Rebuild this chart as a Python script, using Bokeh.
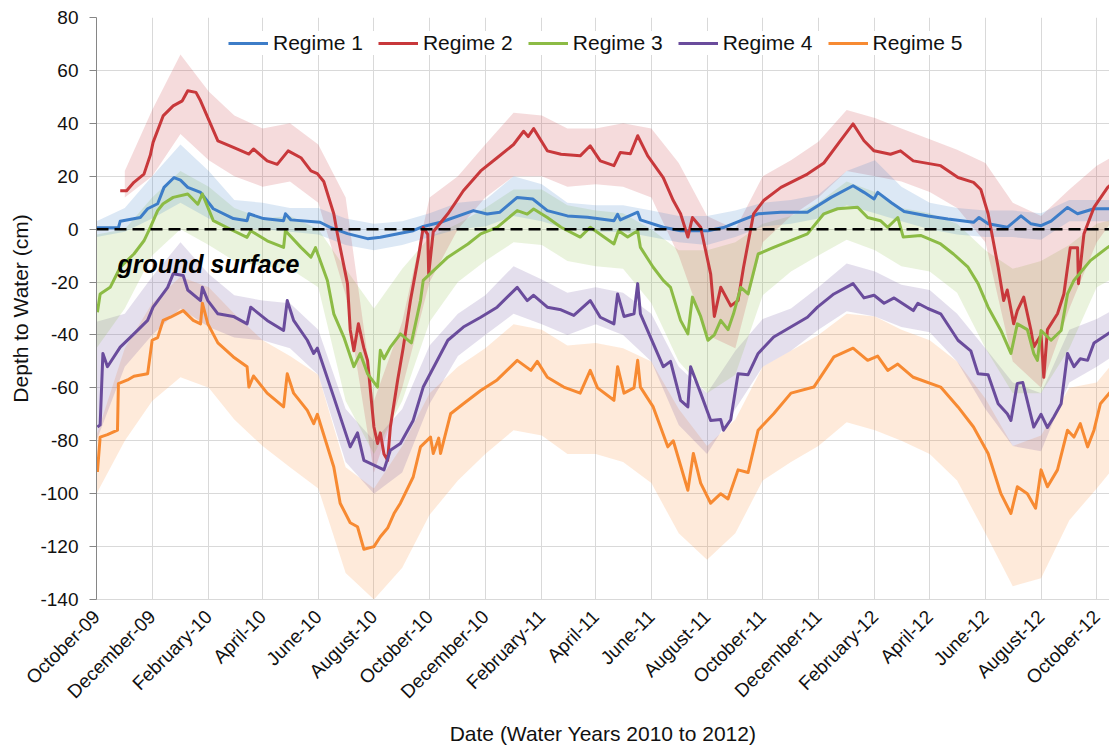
import numpy as np
import pandas as pd
from bokeh.plotting import figure
from bokeh.models import Range1d, FixedTicker, Span, Legend, LegendItem, Label
from bokeh.embed import file_html
from bokeh.resources import INLINE

# ---------------- data (days since 2009-10-01, depth in cm) ----------------
start = pd.Timestamp("2009-10-01")

tick_labels = ["October-09", "December-09", "February-10", "April-10", "June-10",
               "August-10", "October-10", "December-10", "February-11", "April-11",
               "June-11", "August-11", "October-11", "December-11", "February-12",
               "April-12", "June-12", "August-12", "October-12"]

y_ticks = [-140, -120, -100, -80, -60, -40, -20, 0, 20, 40, 60, 80]
y_tick_labels = ["-140", "-120", "-100", "-80", "-60", "-40", "-20", "0", "20", "40", "60", "80"]

series_names = ["Regime 1", "Regime 2", "Regime 3", "Regime 4", "Regime 5"]

r1_day = [0, 24, 26, 48, 56, 67, 74, 85, 92, 100, 114, 128, 150, 165, 167, 183, 205, 207, 213, 245,
          256, 275, 297, 311, 347, 358, 377, 413, 428, 442, 461, 478, 494, 516, 538, 567, 571, 574, 593, 596,
          621, 640, 670, 687, 706, 725, 750, 779, 805, 829, 841, 852, 856, 871, 885, 911, 933, 961, 967, 977,
          998, 1013, 1024, 1035, 1046, 1064, 1075, 1093, 1119, 1128]
r1_val = [0.5, 0.5, 3, 4.4, 7.7, 9.6, 15.8, 19.5, 18.5, 15.8, 13.9, 7.7, 4, 3.2, 5.8, 4, 3.2, 5.8, 3.5, 2.6,
          0.7, -1.7, -3.6, -3.1, -0.6, 1, 2.6, 7, 5.7, 6.4, 12, 11.4, 7, 5, 4.5, 3.2, 5.6, 3.5, 6.4, 3.5,
          0.7, -0.6, -0.6, 0.6, 3.2, 5.8, 6.4, 6.4, 12, 16.4, 13.9, 11.4, 13.9, 10, 6.7, 5, 3.8, 2.6, 4.4, 2,
          0.7, 5, 2, 1.3, 3, 8.2, 5.8, 7.7, 7.7, 7.7]

r2_day = [26, 33, 41, 52, 59, 62, 73, 84, 94, 100, 109, 114, 133, 150, 167, 172, 187, 198, 210, 224,
          235, 242, 249, 260, 264, 275, 278, 282, 287, 293, 297, 304, 308, 311, 315, 319, 322, 330, 336, 344,
          353, 358, 363, 364, 369, 385, 402, 421, 439, 457, 468, 473, 479, 494, 509, 530, 541, 552, 567, 574,
          585, 593, 604, 621, 632, 640, 648, 653, 662, 673, 677, 684, 695, 703, 709, 720, 731, 750, 779, 797,
          815, 829, 841, 852, 870, 881, 895, 925, 944, 961, 969, 977, 988, 994, 998, 1005, 1009, 1016, 1024, 1027,
          1035, 1038, 1042, 1053, 1060, 1067, 1075, 1076, 1082, 1093, 1108, 1119, 1128]
r2_val = [14.5, 14.5, 17.7, 20.8, 28, 32.8, 42.8, 46.6, 48.5, 52.3, 51.7, 48.5, 33.4, 30.9, 28.4, 30.3, 25.8, 24.5, 29.6, 27,
          22, 21, 18, 5.8, -1.8, -20.6, -38, -46, -35.8, -45, -49.6, -74.8, -81, -77, -85, -87.4, -74.8, -57, -45, -27,
          -10, 0.6, -2, -17, -1, 5.8, 14.5, 22, 27, 32, 37, 35, 38, 29.6, 28.3, 27.7, 31.5, 25.8, 24, 29,
          28.5, 35.3, 27.7, 19.5, 10.8, 5.8, -3, 4.4, 0.7, -17, -33, -22, -29, -27, -14.4, 5.8, 10.8, 15.8, 20.8, 25,
          33.4, 39.8, 33.4, 29.6, 28.3, 29.6, 25.8, 24, 19.5, 17.7, 15, 5.8, -14.4, -27, -23, -35.8, -30.8, -25.7, -38.3, -44.5,
          -40, -56, -38, -32, -24.5, -7, -7, -20.6, -1.8, 8.2, 15.8, 19, 21]

r3_day = [1, 4, 15, 26, 41, 52, 59, 67, 73, 84, 100, 111, 116, 128, 150, 165, 169, 187, 205, 207,
          224, 235, 240, 253, 260, 271, 282, 289, 297, 308, 311, 315, 322, 333, 345, 355, 358, 385, 407, 421,
          439, 461, 472, 479, 494, 509, 530, 541, 567, 572, 582, 593, 596, 610, 621, 629, 640, 648, 653, 662,
          670, 677, 684, 692, 698, 706, 714, 725, 742, 779, 797, 812, 834, 845, 859, 867, 878, 884, 903, 925,
          939, 955, 966, 977, 991, 1002, 1009, 1020, 1027, 1031, 1035, 1046, 1057, 1064, 1071, 1089, 1108, 1119, 1128]
r3_val = [-31.4, -24.5, -22, -14.4, -9.4, -4.4, 0.7, 7, 9.6, 12, 13.3, 9.4, 13.3, 3.2, -0.6, -3.1, -0.6, -4.4, -6.9, -0.6,
          -6.9, -10.6, -7, -19.4, -32, -40.8, -52, -47, -54.7, -59.7, -45.8, -49, -44.6, -39.6, -43, -27, -19.4, -10.6, -5.6, -1.8,
          0.7, 7, 5.7, 7.6, 4.4, 0.7, -3, 0.7, -5.6, -0.6, -3, -0.6, -6.9, -14.4, -19.4, -22, -34.5, -39.6, -25.7, -33,
          -42, -40, -34.5, -38, -32, -22, -24.5, -9.4, -6.9, -1.8, 5.8, 7.7, 8.3, 4.4, 3.2, 0.7, 4.4, -3, -2.4, -5.6,
          -9.4, -14.4, -20.6, -29.5, -38.3, -47, -35.8, -38, -47, -49.6, -38.3, -42, -38.3, -24.5, -19.4, -11.9, -6.9, -4.4, -3]

r4_day = [1, 4, 7, 12, 26, 41, 56, 62, 78, 84, 95, 100, 114, 116, 122, 133, 150, 165, 169, 187,
          205, 209, 216, 231, 238, 242, 260, 278, 286, 293, 315, 322, 333, 347, 358, 385, 402, 421, 439, 461,
          472, 479, 494, 509, 523, 541, 552, 567, 571, 578, 589, 593, 596, 607, 621, 629, 640, 648, 651, 662,
          673, 684, 687, 695, 703, 714, 725, 742, 779, 790, 808, 829, 841, 852, 863, 874, 895, 900, 911, 925,
          944, 958, 966, 977, 988, 998, 1002, 1009, 1015, 1027, 1035, 1042, 1049, 1057, 1064, 1071, 1078, 1086, 1093, 1108,
          1119, 1128]
r4_val = [-74.8, -74, -47, -52, -44.6, -39.6, -34.5, -29.5, -22, -16.9, -17.5, -23, -27, -22, -27, -32, -33, -35.8, -29.5, -34.5,
          -38.3, -27, -34.5, -42, -47, -45, -63.5, -82.3, -77, -87.4, -91, -83.6, -81, -72.3, -59.7, -42, -37, -33.3, -29.5, -22,
          -27, -25, -29.5, -30.5, -32.6, -27, -33.3, -35.8, -24.5, -33, -32, -20.6, -32, -40.8, -52, -50, -64.7, -67.2, -52, -62,
          -72.3, -72, -76, -72, -54.7, -55, -47, -40.8, -33.3, -29.5, -24.5, -20.6, -26, -25, -28, -26, -30.8, -28, -30, -32,
          -42, -46, -54.7, -55, -66, -69.8, -72.3, -58.3, -58, -74.8, -70, -75, -71, -66, -47, -52, -49, -49.6, -43, -39.6,
          -37, -36]

r5_day = [1, 4, 12, 23, 24, 34, 41, 56, 61, 67, 73, 81, 95, 106, 114, 116, 122, 133, 150, 165,
          167, 172, 187, 205, 209, 216, 231, 238, 242, 260, 267, 278, 286, 293, 304, 311, 319, 326, 333, 347,
          355, 366, 369, 375, 377, 388, 402, 421, 439, 461, 476, 483, 494, 512, 530, 541, 549, 567, 571, 578,
          589, 593, 596, 610, 626, 632, 648, 654, 662, 673, 684, 692, 703, 714, 725, 742, 761, 786, 808, 829,
          845, 856, 867, 878, 895, 925, 944, 961, 977, 991, 1002, 1009, 1020, 1029, 1035, 1042, 1053, 1064, 1071, 1078,
          1086, 1093, 1100, 1119, 1128]
r5_val = [-91.8, -78.6, -77.7, -76, -58.4, -57, -55.6, -54.7, -42, -41, -34.5, -33.3, -30.8, -34.5, -35.8, -28, -35.8, -43, -48.3, -52,
          -59.7, -55.5, -62, -67.2, -54.7, -62, -68.5, -73.5, -70, -89.9, -103.6, -111, -112.5, -121, -120, -116.3, -113, -107.5, -103.6, -93.7,
          -82.3, -78.6, -84.8, -79, -84.8, -69.8, -66, -61, -57, -49.6, -53.4, -50, -56, -59.7, -62, -53.4, -60, -64.7, -52, -62,
          -60, -49.6, -59.7, -67.2, -82.3, -80, -98.7, -84.8, -96, -103.6, -100, -102, -91, -92, -76, -69.8, -62, -59.7, -48.3, -45,
          -49.6, -48, -53.4, -51, -56, -59.7, -67.2, -74.8, -84.8, -100, -107.5, -97.4, -100, -105.5, -91, -97.4, -91, -76, -78.6, -73.5,
          -82.3, -76, -66, -58.3, -57]

# variability bands, sampled at each month start (Oct-09 ... Nov-12)
r1_hi = [3, 8, 20, 32, 22, 11, 10, 8, 8, 4, 2, 3, 6, 10, 11, 20, 17, 10, 9, 9,
         7, 5, 5, 7, 10, 11, 13, 22, 26, 16, 10, 8, 7, 7, 6, 11, 11, 11]
r1_lo = [-3, -1, 4, 10, 4, 0, 0, -1, -2, -6, -8, -6, -3, 0, 1, 5, 3, 0, -1, -1,
         -3, -5, -6, -3, 1, 2, 4, 9, 6, 3, 0, -2, -3, -3, -4, 3, 3, 3]
# Regime 2 band starts at Nov-09
r2_hi = [22, 45, 66, 52, 43, 38, 40, 32, 12, -65, -35, 12, 20, 32, 44, 43, 38, 38, 40, 38,
         25, 5, 0, 20, 26, 33, 45, 42, 38, 34, 30, 25, 10, 5, 15, 24, 30]
r2_lo = [12, 20, 36, 26, 20, 16, 18, 10, -25, -92, -60, -20, 0, 12, 20, 20, 16, 17, 16, 12,
         -10, -40, -45, -5, 5, 12, 22, 20, 18, 14, 8, -5, -50, -60, -30, -5, 10]
r3_hi = [-2, 0, 12, 22, 16, 8, 4, 5, 0, -15, -30, -15, -3, 2, 8, 15, 15, 9, 7, 6,
         0, -8, -8, -5, 2, 5, 10, 18, 14, 8, 6, 2, -8, -15, -12, -6, 2, 5]
r3_lo = [-45, -30, -10, 0, -6, -12, -14, -15, -22, -65, -85, -65, -35, -20, -12, -5, -6, -12, -14, -15,
         -28, -50, -62, -55, -25, -16, -10, -4, -8, -14, -16, -24, -45, -62, -62, -45, -22, -16]
r4_hi = [-35, -32, -18, -5, -17, -25, -27, -28, -38, -68, -80, -68, -44, -32, -25, -14, -19, -24, -22, -24,
         -32, -52, -62, -46, -34, -30, -22, -13, -16, -21, -23, -32, -45, -58, -62, -38, -34, -28]
r4_lo = [-80, -52, -40, -30, -37, -41, -42, -45, -55, -88, -100, -92, -66, -48, -40, -32, -36, -40, -36, -40,
         -50, -74, -85, -68, -52, -46, -38, -31, -33, -37, -39, -50, -68, -82, -84, -58, -52, -45]
r5_hi = [-78, -45, -28, -18, -22, -32, -42, -48, -55, -90, -98, -82, -62, -52, -45, -36, -38, -44, -43, -45,
         -50, -68, -82, -72, -52, -46, -40, -32, -33, -38, -42, -50, -64, -82, -78, -60, -58, -45]
r5_lo = [-100, -80, -65, -56, -60, -72, -82, -90, -98, -130, -140, -128, -108, -95, -85, -76, -78, -85, -85, -88,
         -96, -115, -125, -115, -95, -88, -82, -73, -76, -80, -85, -95, -115, -135, -132, -110, -98, -85]

colors = ["#3D7DC8", "#C8383B", "#8CBB45", "#6A4C9C", "#F78A32"]

# ---------------- derived positions ----------------
months = pd.date_range("2009-10-01", "2012-11-01", freq="MS")
band_day = [int(d) for d in (months - start).days]
tick_days = band_day[0:37:2]

FONT = "Liberation Sans"

p = figure(width=1109, height=747, output_backend="svg", toolbar_location=None,
           x_range=Range1d(0, 1110), y_range=Range1d(-140, 80),
           min_border_left=96, min_border_right=0, min_border_top=17, min_border_bottom=147)
p.outline_line_color = None
p.background_fill_color = "white"

bands = [(band_day, r1_lo, r1_hi), (band_day[1:], r2_lo, r2_hi), (band_day, r3_lo, r3_hi),
         (band_day, r4_lo, r4_hi), (band_day, r5_lo, r5_hi)]
for (bd, lo, hi), c in reversed(list(zip(bands, colors))):
    p.varea(x=bd, y1=lo, y2=hi, fill_color=c, fill_alpha=0.18)

lines = [(r1_day, r1_val), (r2_day, r2_val), (r3_day, r3_val), (r4_day, r4_val), (r5_day, r5_val)]
renderers = []
for (d, v), c in zip(lines, colors):
    renderers.append(p.line(x=d, y=v, line_color=c, line_width=3, line_join="round"))

p.add_layout(Span(location=0, dimension="width", line_color="black",
                  line_width=2.5, line_dash="12 6"))

p.add_layout(Label(x=23, y=-13, text="ground surface", text_font=FONT,
                   text_font_style="bold italic", text_font_size="25px",
                   text_color="black", text_baseline="alphabetic"))

# axes
p.xaxis.ticker = FixedTicker(ticks=tick_days)
p.xaxis.major_label_overrides = {d: lab for d, lab in zip(tick_days, tick_labels)}
p.xaxis.major_label_orientation = np.pi / 4
p.xaxis.major_label_text_font = FONT
p.xaxis.major_label_text_font_size = "19px"
p.xaxis.major_label_text_color = "#111111"
p.xaxis.major_label_standoff = 8
p.xaxis.major_tick_line_color = None
p.xaxis.minor_tick_line_color = None
p.xaxis.axis_line_color = "#d9d9d9"
p.xaxis.axis_label = "Date (Water Years 2010 to 2012)"
p.xaxis.axis_label_text_font = FONT
p.xaxis.axis_label_text_font_style = "normal"
p.xaxis.axis_label_text_font_size = "21px"
p.xaxis.axis_label_text_color = "#111111"
p.xaxis.axis_label_standoff = 9

p.yaxis.ticker = FixedTicker(ticks=y_ticks)
p.yaxis.major_label_overrides = {t: s for t, s in zip(y_ticks, y_tick_labels)}
p.yaxis.major_label_text_font = FONT
p.yaxis.major_label_text_font_size = "19px"
p.yaxis.major_label_text_color = "#111111"
p.yaxis.major_tick_out = 7
p.yaxis.major_tick_in = 0
p.yaxis.major_tick_line_color = "#868686"
p.yaxis.minor_tick_line_color = None
p.yaxis.axis_line_color = "#868686"
p.yaxis.major_label_standoff = 11
p.yaxis.axis_label = "Depth to Water (cm)"
p.yaxis.axis_label_text_font = FONT
p.yaxis.axis_label_text_font_style = "normal"
p.yaxis.axis_label_text_font_size = "21px"
p.yaxis.axis_label_text_color = "#111111"
p.yaxis.axis_label_standoff = 5

p.xgrid.grid_line_color = "#d9d9d9"
p.ygrid.grid_line_color = "#d9d9d9"

legend = Legend(items=[LegendItem(label=n, renderers=[r]) for n, r in zip(series_names, renderers)],
                location=(132, 544), orientation="horizontal")
legend.label_text_font = FONT
legend.label_text_font_size = "21px"
legend.label_text_color = "#111111"
legend.glyph_width = 40
legend.glyph_height = 20
legend.label_standoff = 5
legend.spacing = 15
legend.padding = 15
legend.margin = 0
legend.border_line_color = None
legend.background_fill_color = "white"
legend.background_fill_alpha = 1.0
p.add_layout(legend)

open("out.html", "w").write(file_html(p, INLINE))
